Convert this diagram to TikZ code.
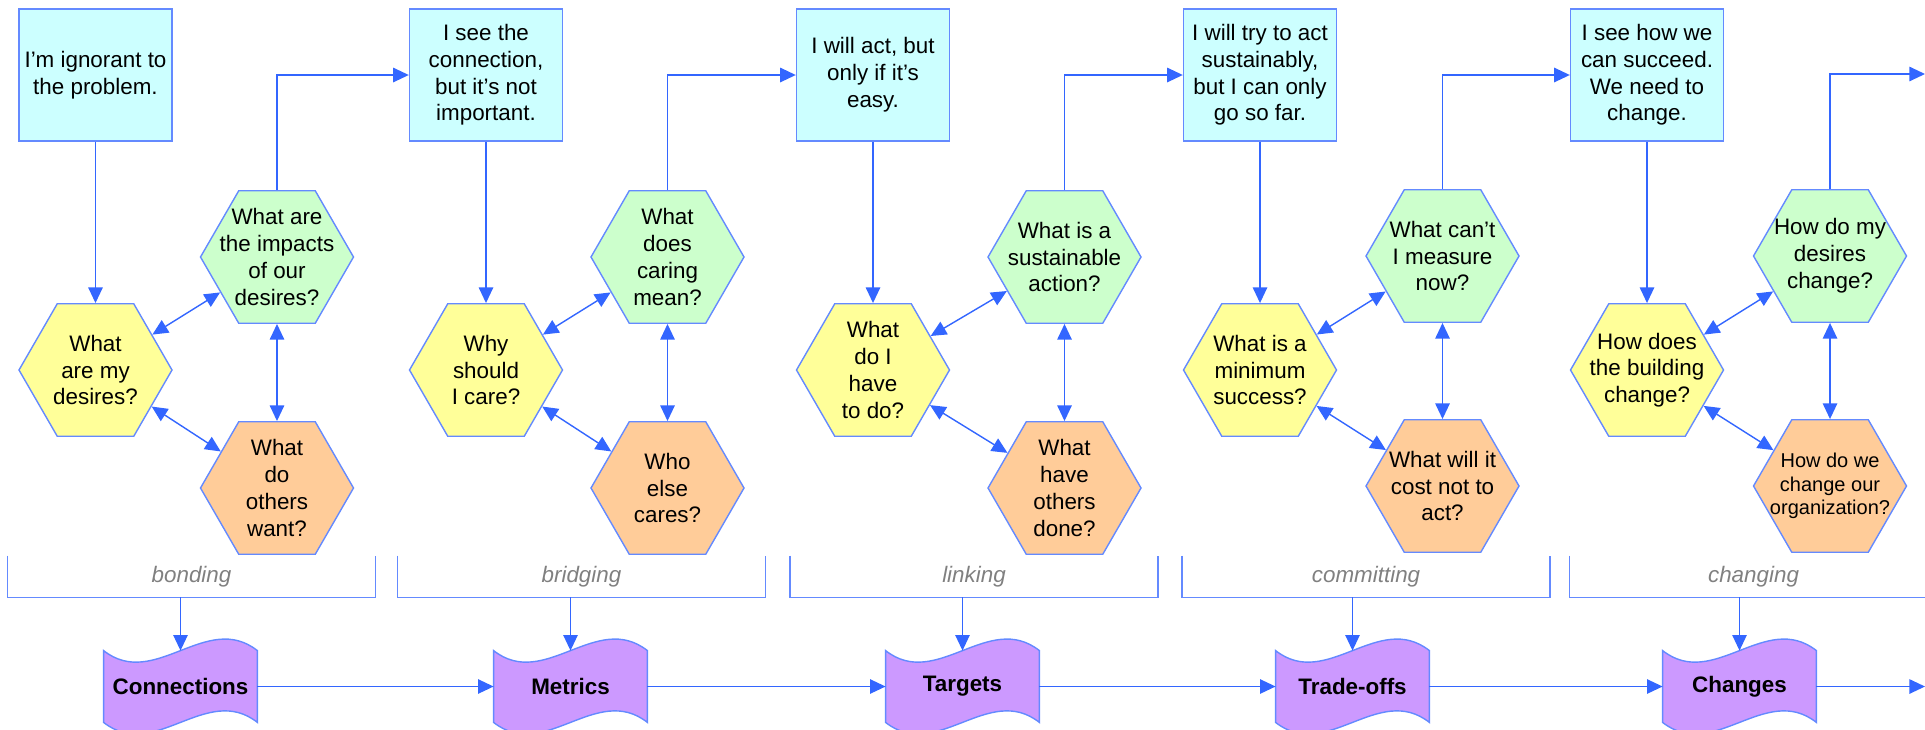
\documentclass[tikz,border=0pt]{standalone}
\usepackage{fontspec}
\setmainfont{Liberation Sans}
\usetikzlibrary{shapes.geometric,arrows.meta,backgrounds}
\definecolor{ln}{RGB}{51,102,255}
\definecolor{lnl}{RGB}{100,138,255}
\definecolor{boxfill}{RGB}{204,255,255}
\definecolor{hyel}{RGB}{255,255,153}
\definecolor{hgrn}{RGB}{204,255,204}
\definecolor{hora}{RGB}{255,204,153}
\definecolor{purp}{RGB}{204,153,255}
\definecolor{labgray}{RGB}{128,128,128}
\begin{document}
\begin{tikzpicture}[x=0.5pt,y=-0.5pt,
  every node/.style={font=\fontsize{11.2}{13.4}\selectfont, align=center},
  box/.style={draw=lnl, line width=0.7pt, fill=boxfill, minimum width=76.5pt, minimum height=66pt, inner sep=0pt},
  hexa/.style={regular polygon, regular polygon sides=6, minimum size=76.5pt, inner sep=0pt, draw=lnl, line width=0.7pt},
  hy/.style={hexa, fill=hyel},
  hg/.style={hexa, fill=hgrn},
  ho/.style={hexa, fill=hora},
  brk/.style={minimum width=183.5pt, minimum height=20.5pt, inner sep=0pt, text=labgray, font=\fontsize{11.2}{13.4}\selectfont\itshape},
  wv/.style={minimum width=76.5pt, minimum height=35.5pt, inner sep=0pt, font=\fontsize{11.2}{13.4}\selectfont\bfseries},
  arr/.style={draw=ln, line width=0.7pt, -{Triangle[length=7.8pt,width=7.2pt]}},
  darr/.style={draw=ln, line width=0.7pt, {Triangle[length=7.8pt,width=7.2pt]}-{Triangle[length=7.8pt,width=7.2pt]}},
  brline/.style={draw=lnl, line width=0.7pt},
  wavedraw/.style={fill=purp, draw=lnl, line width=0.7pt}
]
\useasboundingbox (0,0) rectangle (1925,729);
\clip (0,0) rectangle (1925,729);

% boxes
\node[box] (b1) at (95.5,75) {I’m ignorant to\\the problem.};
\node[box] (b2) at (486,75) {I see the\\connection,\\but it’s not\\important.};
\node[box] (b3) at (873,75) {I will act, but\\only if it’s\\easy.};
\node[box] (b4) at (1260,75) {I will try to act\\sustainably,\\but I can only\\go so far.};
\node[box] (b5) at (1647,75) {I see how we\\can succeed.\\We need to\\change.};

% yellow hexagons
\node[hy, label={center:What\\are my\\desires?}] (y1) at (95.5,370) {};
\node[hy, label={center:Why\\should\\I care?}] (y2) at (486,370) {};
\node[hy, label={center:What\\do I\\have\\to do?}] (y3) at (873,370) {};
\node[hy, label={center:What is a\\minimum\\success?}] (y4) at (1260,370) {};
\node[hy, label={center:How does\\the building\\change?}] (y5) at (1647,370) {};

% green hexagons
\node[hg, label={center:What are\\the impacts\\of our\\desires?}] (g1) at (277,257) {};
\node[hg, label={center:What\\does\\caring\\mean?}] (g2) at (667.5,257) {};
\node[hg, label={center:What is a\\sustainable\\action?}] (g3) at (1064.5,257) {};
\node[hg, label={center:What can’t\\I measure\\now?}] (g4) at (1442.5,256) {};
\node[hg, label={center:How do my\\desires\\change?}] (g5) at (1830,256) {};

% orange hexagons
\node[ho, label={center:What\\do\\others\\want?}] (o1) at (277,488) {};
\node[ho, label={center:Who\\else\\cares?}] (o2) at (667.5,488) {};
\node[ho, label={center:What\\have\\others\\done?}] (o3) at (1064.5,488) {};
\node[ho, label={center:What will it\\cost not to\\act?}] (o4) at (1442.5,486) {};
\node[ho, label={[font=\fontsize{10}{11.9}\selectfont]center:How do we\\change our\\organization?}] (o5) at (1830,486) {};

% brackets
\node[brk] (br1) at (191.5,576.5) {bonding};
\node[brk] (br2) at (581.5,576.5) {bridging};
\node[brk] (br3) at (974,576.5) {linking};
\node[brk] (br4) at (1366,576.5) {committing};
\node[brk] (br5) at (1753.5,576.5) {changing};
\foreach \b in {br1,br2,br3,br4,br5}{
  \draw[brline] (\b.north west) -- (\b.south west) -- (\b.south east) -- (\b.north east);
}

% waves
\node[wv] (w1) at (180.5,686.5) {Connections};
\node[wv] (w2) at (570.5,686.5) {Metrics};
\node[wv] (w3) at (962.5,686.5) {Targets};
\node[wv] (w4) at (1352.5,686.5) {Trade-offs};
\node[wv] (w5) at (1739.5,686.5) {Changes};
\begin{pgfonlayer}{background}
\foreach \w in {w1,w2,w3,w4,w5}{
  \path[wavedraw] (\w.north west) .. controls +(51,40) and +(-51,-40) .. (\w.north east)
     -- (\w.south east) .. controls +(-51,-40) and +(51,40) .. (\w.south west) -- cycle;
}
\end{pgfonlayer}

\coordinate (outT) at (1925,74);
\coordinate (outW) at (1925,686.5);

% connectors
\foreach \i in {1,...,5}{
  \draw[arr] (b\i.south) -- (y\i.north);
  \draw[darr] (y\i) -- (g\i);
  \draw[darr] (y\i) -- (o\i);
  \draw[darr] (g\i.south) -- (o\i.north);
  \draw[arr] (br\i.south -| w\i.north) -- (w\i.north);
}
\foreach \i/\j in {1/2,2/3,3/4,4/5}{
  \draw[arr] (g\i.north) |- (b\j.west);
  \draw[arr] (w\i.east) -- (w\j.west);
}
\draw[arr] (g5.north) |- (outT);
\draw[arr] (w5.east) -- (outW);
\end{tikzpicture}
\end{document}
